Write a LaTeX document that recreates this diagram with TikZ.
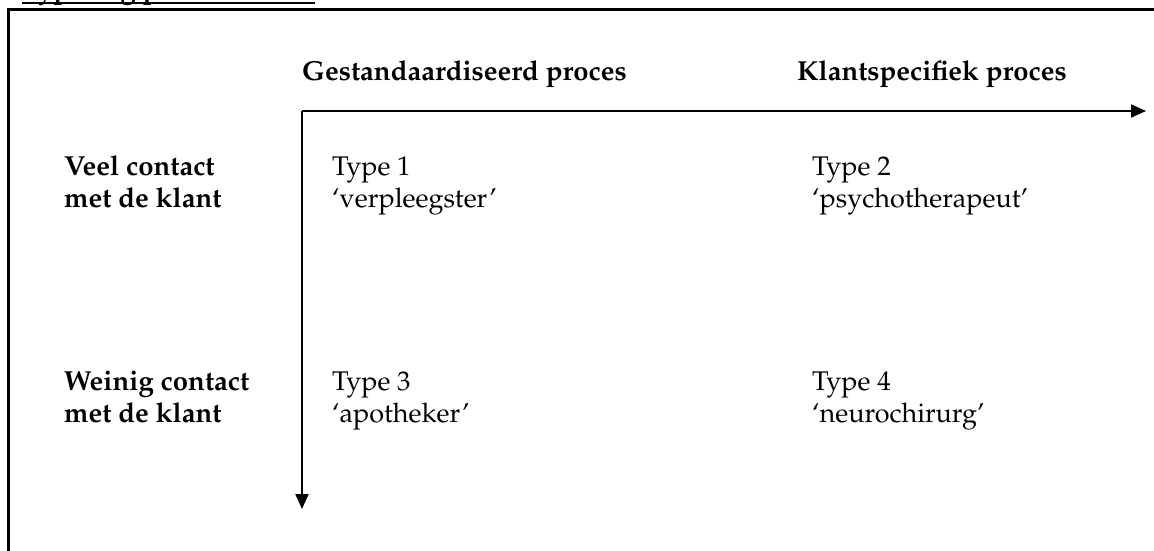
\documentclass[tikz,border=0pt]{standalone}
\usepackage[T1]{fontenc}
\renewcommand{\rmdefault}{ppl}
\usetikzlibrary{arrows.meta}
\tikzset{
  hdr/.style={font=\fontsize{27.5}{32}\selectfont\bfseries, anchor=base west, inner sep=0pt},
  cell/.style={font=\fontsize{27}{32}\selectfont, anchor=base west, inner sep=0pt},
  axis/.style={line width=2pt, -{Triangle[length=15pt,width=13pt]}},
}
\begin{document}
\begin{tikzpicture}[x=1pt,y=-1pt]
\useasboundingbox (0,0) rectangle (1154,551);
\begin{scope}
\clip (0,0) rectangle (1154,551);
% title cut off at the top
\node[hdr] (title) at (22,-1) {Typering processen};
\draw[line width=2pt] (22,3.5) -- (315,3.5);
% frame
\draw[line width=3pt] (8,10) rectangle (1170,570);
\end{scope}
% headers
\node[hdr] (h1) at (302,81) {Gestandaardiseerd proces};
\node[hdr] (h2) at (797,81) {Klantspecifiek proces};
% axes
\coordinate (o) at (302,111);
\coordinate (xe) at (1146,111);
\coordinate (ye) at (302,509);
\draw[axis] (o) -- (xe);
\draw[axis] (o) -- (ye);
% row labels
\node[hdr] (r1a) at (64,175) {Veel contact};
\node[hdr] (r1b) at (64,207) {met de klant};
\node[hdr] (r2a) at (64,390) {Weinig contact};
\node[hdr] (r2b) at (64,422) {met de klant};
% cells
\node[cell] (t1a) at (332,175) {Type 1};
\node[cell] (t1b) at (332,207) {`verpleegster'};
\node[cell] (t2a) at (812,175) {Type 2};
\node[cell] (t2b) at (812,207) {`psychotherapeut'};
\node[cell] (t3a) at (332,390) {Type 3};
\node[cell] (t3b) at (332,422) {`apotheker'};
\node[cell] (t4a) at (812,390) {Type 4};
\node[cell] (t4b) at (812,422) {`neurochirurg'};
\end{tikzpicture}
\end{document}
